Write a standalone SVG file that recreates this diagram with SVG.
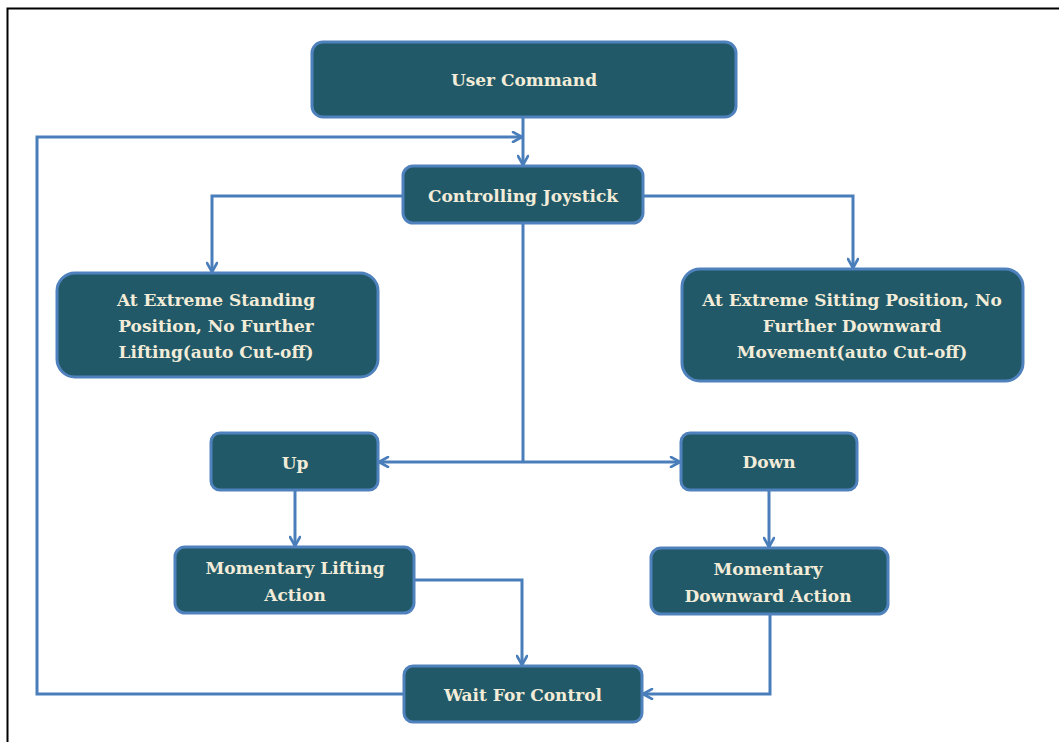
<svg xmlns="http://www.w3.org/2000/svg" width="1059" height="742" viewBox="0 0 1059 742">
<defs>
<marker id="arr" viewBox="0 0 12 12" refX="11" refY="6" markerWidth="12" markerHeight="12" markerUnits="userSpaceOnUse" orient="auto">
<path d="M2,1 L11,6 L2,11" fill="none" stroke="#4a7ebb" stroke-width="2.6" stroke-linecap="round" stroke-linejoin="round"/>
</marker>
<style>
.n{fill:#215968;stroke:#4f81bd;stroke-width:3}
.t{font-family:"DejaVu Serif",serif;font-weight:bold;font-size:17px;fill:#f2ecd8;text-anchor:middle}
.c{fill:none;stroke:#4a7ebb;stroke-width:3}
.a{marker-end:url(#arr)}
</style>
</defs>
<rect width="1059" height="742" fill="#ffffff"/>
<path d="M7.5,742 V8.5 H1059" fill="none" stroke="#000" stroke-width="2"/>
<g id="connectors">
<path class="c a" d="M523,117 V165"/>
<path class="c a" d="M404,694 H37 V137 H522"/>
<path class="c a" d="M403,196 H212 V272"/>
<path class="c a" d="M643,196 H853 V268"/>
<path class="c" d="M523,223 V462"/>
<path class="c a" d="M523,462 H379"/>
<path class="c a" d="M523,462 H680"/>
<path class="c a" d="M295,490 V546"/>
<path class="c a" d="M769,490 V547"/>
<path class="c a" d="M414,580 H522 V665"/>
<path class="c a" d="M770,614 V694 H643"/>
</g>
<g id="n-user"><rect class="n" x="312" y="42" width="424" height="75" rx="11"/><text class="t" x="524" y="86">User Command</text></g>
<g id="n-joy"><rect class="n" x="403" y="166" width="240" height="57" rx="10"/><text class="t" x="523" y="202">Controlling Joystick</text></g>
<g id="n-stand"><rect class="n" x="57" y="273" width="321" height="104" rx="18"/><text class="t" x="216" y="306">At Extreme Standing</text><text class="t" x="216" y="332">Position, No Further</text><text class="t" x="216" y="358">Lifting(auto Cut-off)</text></g>
<g id="n-sit"><rect class="n" x="682" y="269" width="341" height="112" rx="18"/><text class="t" x="852" y="306">At Extreme Sitting Position, No</text><text class="t" x="852" y="332">Further Downward</text><text class="t" x="852" y="358">Movement(auto Cut-off)</text></g>
<g id="n-up"><rect class="n" x="211" y="433" width="167" height="57" rx="9"/><text class="t" x="295" y="469">Up</text></g>
<g id="n-down"><rect class="n" x="681" y="433" width="176" height="57" rx="9"/><text class="t" x="769" y="468">Down</text></g>
<g id="n-lift"><rect class="n" x="175" y="547" width="239" height="66" rx="10"/><text class="t" x="295" y="574">Momentary Lifting</text><text class="t" x="295" y="601">Action</text></g>
<g id="n-dact"><rect class="n" x="651" y="548" width="237" height="66" rx="10"/><text class="t" x="768" y="575">Momentary</text><text class="t" x="768" y="602">Downward Action</text></g>
<g id="n-wait"><rect class="n" x="404" y="666" width="238" height="56" rx="9"/><text class="t" x="523" y="701">Wait For Control</text></g>
</svg>
